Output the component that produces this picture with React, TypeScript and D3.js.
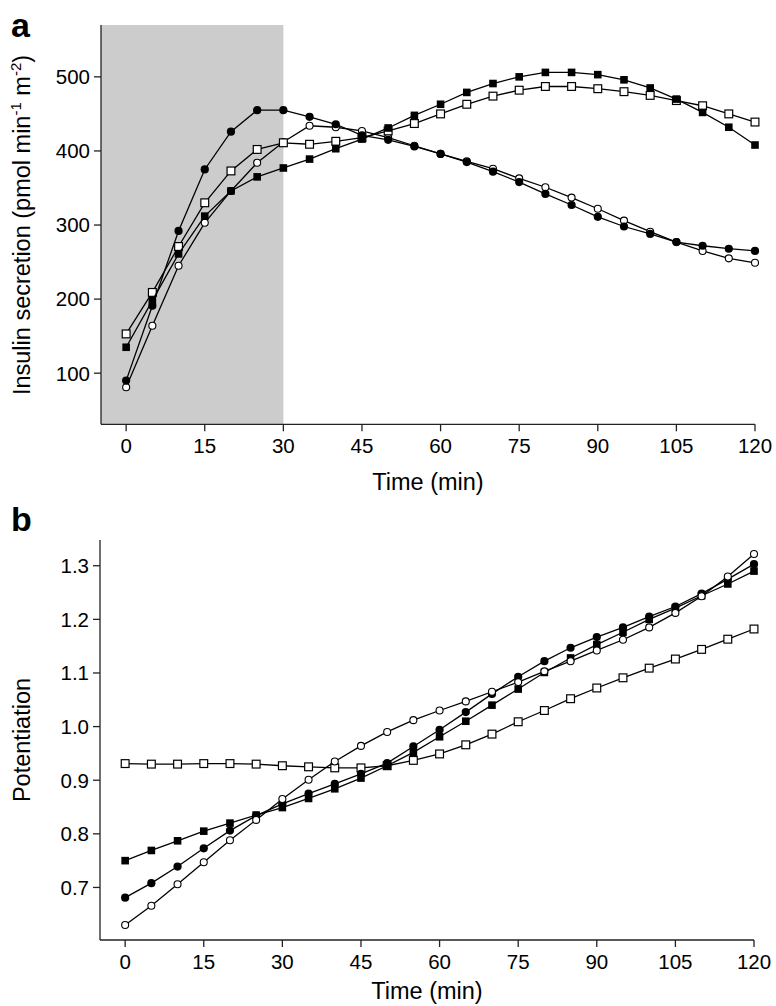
import React from "react";
import * as d3 from "d3";

const times = [0, 5, 10, 15, 20, 25, 30, 35, 40, 45, 50, 55, 60, 65, 70, 75, 80, 85, 90, 95, 100, 105, 110, 115, 120];
const xTicks = [0, 15, 30, 45, 60, 75, 90, 105, 120];

// Panel a: insulin secretion (pmol min^-1 m^-2)
const secFilledCircle = [90, 191, 292, 375, 426, 455, 455, 446, 436, 421, 415, 406, 396, 385, 372, 358, 342, 327, 311, 298, 288, 277, 272, 268, 265];
const secOpenCircle = [81, 164, 245, 303, 346, 384, 412, 434, 432, 427, 418, 407, 396, 386, 376, 363, 351, 337, 322, 306, 291, 277, 265, 255, 249];
const secFilledSquare = [135, 198, 261, 312, 346, 365, 377, 389, 403, 416, 431, 448, 463, 479, 491, 500, 506, 506, 503, 496, 485, 470, 452, 432, 408];
const secOpenSquare = [153, 209, 271, 330, 373, 402, 411, 409, 413, 418, 427, 437, 450, 463, 474, 482, 487, 487, 484, 480, 475, 468, 461, 450, 439];
const secTicks = [100, 200, 300, 400, 500];

// Panel b: potentiation
const potFilledCircle = [0.681, 0.708, 0.739, 0.773, 0.806, 0.834, 0.856, 0.875, 0.893, 0.912, 0.932, 0.963, 0.994, 1.027, 1.061, 1.093, 1.122, 1.147, 1.167, 1.185, 1.205, 1.224, 1.248, 1.275, 1.303];
const potOpenCircle = [0.630, 0.666, 0.706, 0.747, 0.788, 0.826, 0.865, 0.901, 0.935, 0.964, 0.990, 1.012, 1.030, 1.047, 1.065, 1.083, 1.103, 1.122, 1.142, 1.162, 1.185, 1.212, 1.243, 1.280, 1.322];
const potFilledSquare = [0.750, 0.769, 0.787, 0.805, 0.820, 0.835, 0.849, 0.866, 0.884, 0.904, 0.927, 0.952, 0.981, 1.010, 1.040, 1.070, 1.101, 1.128, 1.153, 1.176, 1.200, 1.221, 1.244, 1.266, 1.290];
const potOpenSquare = [0.931, 0.930, 0.930, 0.931, 0.931, 0.930, 0.927, 0.925, 0.923, 0.923, 0.927, 0.937, 0.949, 0.966, 0.986, 1.009, 1.030, 1.052, 1.072, 1.091, 1.109, 1.126, 1.144, 1.163, 1.182];
const potTicks = [0.7, 0.8, 0.9, 1.0, 1.1, 1.2, 1.3];

const FONT = "'Liberation Sans', Arial, Helvetica, sans-serif";
const AX = "#222";

type Kind = "fc" | "oc" | "fs" | "os";

function Marker({ kind, cx, cy }: { kind: Kind; cx: number; cy: number }) {
  if (kind === "fc") return <circle cx={cx} cy={cy} r={4.1} fill="#000" />;
  if (kind === "oc") return <circle cx={cx} cy={cy} r={3.5} fill="#fff" stroke="#000" strokeWidth={1.1} />;
  if (kind === "fs") return <rect x={cx - 3.8} y={cy - 3.8} width={7.6} height={7.6} fill="#000" />;
  return <rect x={cx - 3.9} y={cy - 3.9} width={7.8} height={7.8} fill="#fff" stroke="#000" strokeWidth={1.2} />;
}

function Series({ values, kind, x, y }: { values: number[]; kind: Kind; x: any; y: any }) {
  const pts: [number, number][] = times.map((t, i) => [x(t), y(values[i])]);
  const line = d3.line();
  return (
    <g>
      <path d={line(pts) || ""} fill="none" stroke="#000" strokeWidth={1.3} />
      {pts.map((p, i) => (
        <Marker key={i} kind={kind} cx={p[0]} cy={p[1]} />
      ))}
    </g>
  );
}

function Panel({
  x, y, yTicks, yFmt, series, shade, letter, letterY, yTitle, yTitleCenter, tickLabelDy, titleY,
}: any) {
  const [x0] = x.range();
  const [yb, yt] = y.range();
  return (
    <g fontFamily={FONT}>
      {shade && (
        <rect x={x0} y={yt} width={x(30) - x0} height={yb - yt} fill="#cccccc" />
      )}
      <line x1={x0} x2={x0} y1={yt} y2={yb} stroke={AX} strokeWidth={1.3} />
      <line x1={x0} x2={x(120)} y1={yb} y2={yb} stroke={AX} strokeWidth={1.3} />
      {yTicks.map((v: number) => (
        <g key={v}>
          <line x1={x0 - 7} x2={x0} y1={y(v)} y2={y(v)} stroke={AX} strokeWidth={1.3} />
          <text x={x0 - 11} y={y(v)} dy="0.36em" textAnchor="end" fontSize={20.5} fill="#000">
            {yFmt(v)}
          </text>
        </g>
      ))}
      {xTicks.map((t) => (
        <g key={t}>
          <line x1={x(t)} x2={x(t)} y1={yb} y2={yb + 7} stroke={AX} strokeWidth={1.3} />
          <text x={x(t)} y={yb + tickLabelDy} textAnchor="middle" fontSize={20.5} fill="#000">
            {t}
          </text>
        </g>
      ))}
      <text x={(x0 + x(120)) / 2} y={titleY} textAnchor="middle" fontSize={23.5} fill="#000">
        Time (min)
      </text>
      <text
        transform={`translate(30,${yTitleCenter}) rotate(-90)`}
        textAnchor="middle"
        fontSize={23.5}
        fill="#000"
      >
        {yTitle}
      </text>
      <text x={11} y={letterY} fontSize={34} fontWeight="bold" fill="#000">
        {letter}
      </text>
      {series.map((s: any, i: number) => (
        <Series key={i} values={s.values} kind={s.kind} x={x} y={y} />
      ))}
    </g>
  );
}

export default function App() {
  const xa = d3.scaleLinear().domain([-4.8, 120]).range([101, 755]);
  const ya = d3.scaleLinear().domain([31, 570]).range([424.3, 25]);
  const xb = d3.scaleLinear().domain([-4.8, 120]).range([100, 754]);
  const yb = d3.scaleLinear().domain([0.602, 1.348]).range([940, 540]);

  const secTitle = (
    <>
      Insulin secretion (pmol min
      <tspan dy={-9} fontSize={15}>-1</tspan>
      <tspan dy={9}> m</tspan>
      <tspan dy={-9} fontSize={15}>-2</tspan>
      <tspan dy={9}>)</tspan>
    </>
  );

  return (
    <svg
      width={776}
      height={1006}
      style={{ position: "absolute", left: 0, top: 0, background: "#fff" }}
    >
      <rect width={776} height={1006} fill="#fff" />
      <Panel
        x={xa}
        y={ya}
        yTicks={secTicks}
        yFmt={(v: number) => String(v)}
        shade
        letter="a"
        letterY={37}
        yTitle={secTitle}
        yTitleCenter={225}
        tickLabelDy={29}
        titleY={490}
        series={[
          { values: secOpenCircle, kind: "oc" },
          { values: secOpenSquare, kind: "os" },
          { values: secFilledSquare, kind: "fs" },
          { values: secFilledCircle, kind: "fc" },
        ]}
      />
      <Panel
        x={xb}
        y={yb}
        yTicks={potTicks}
        yFmt={(v: number) => v.toFixed(1)}
        shade={false}
        letter="b"
        letterY={531}
        yTitle="Potentiation"
        yTitleCenter={740}
        tickLabelDy={28.5}
        titleY={999}
        series={[
          { values: potOpenSquare, kind: "os" },
          { values: potFilledSquare, kind: "fs" },
          { values: potFilledCircle, kind: "fc" },
          { values: potOpenCircle, kind: "oc" },
        ]}
      />
    </svg>
  );
}
